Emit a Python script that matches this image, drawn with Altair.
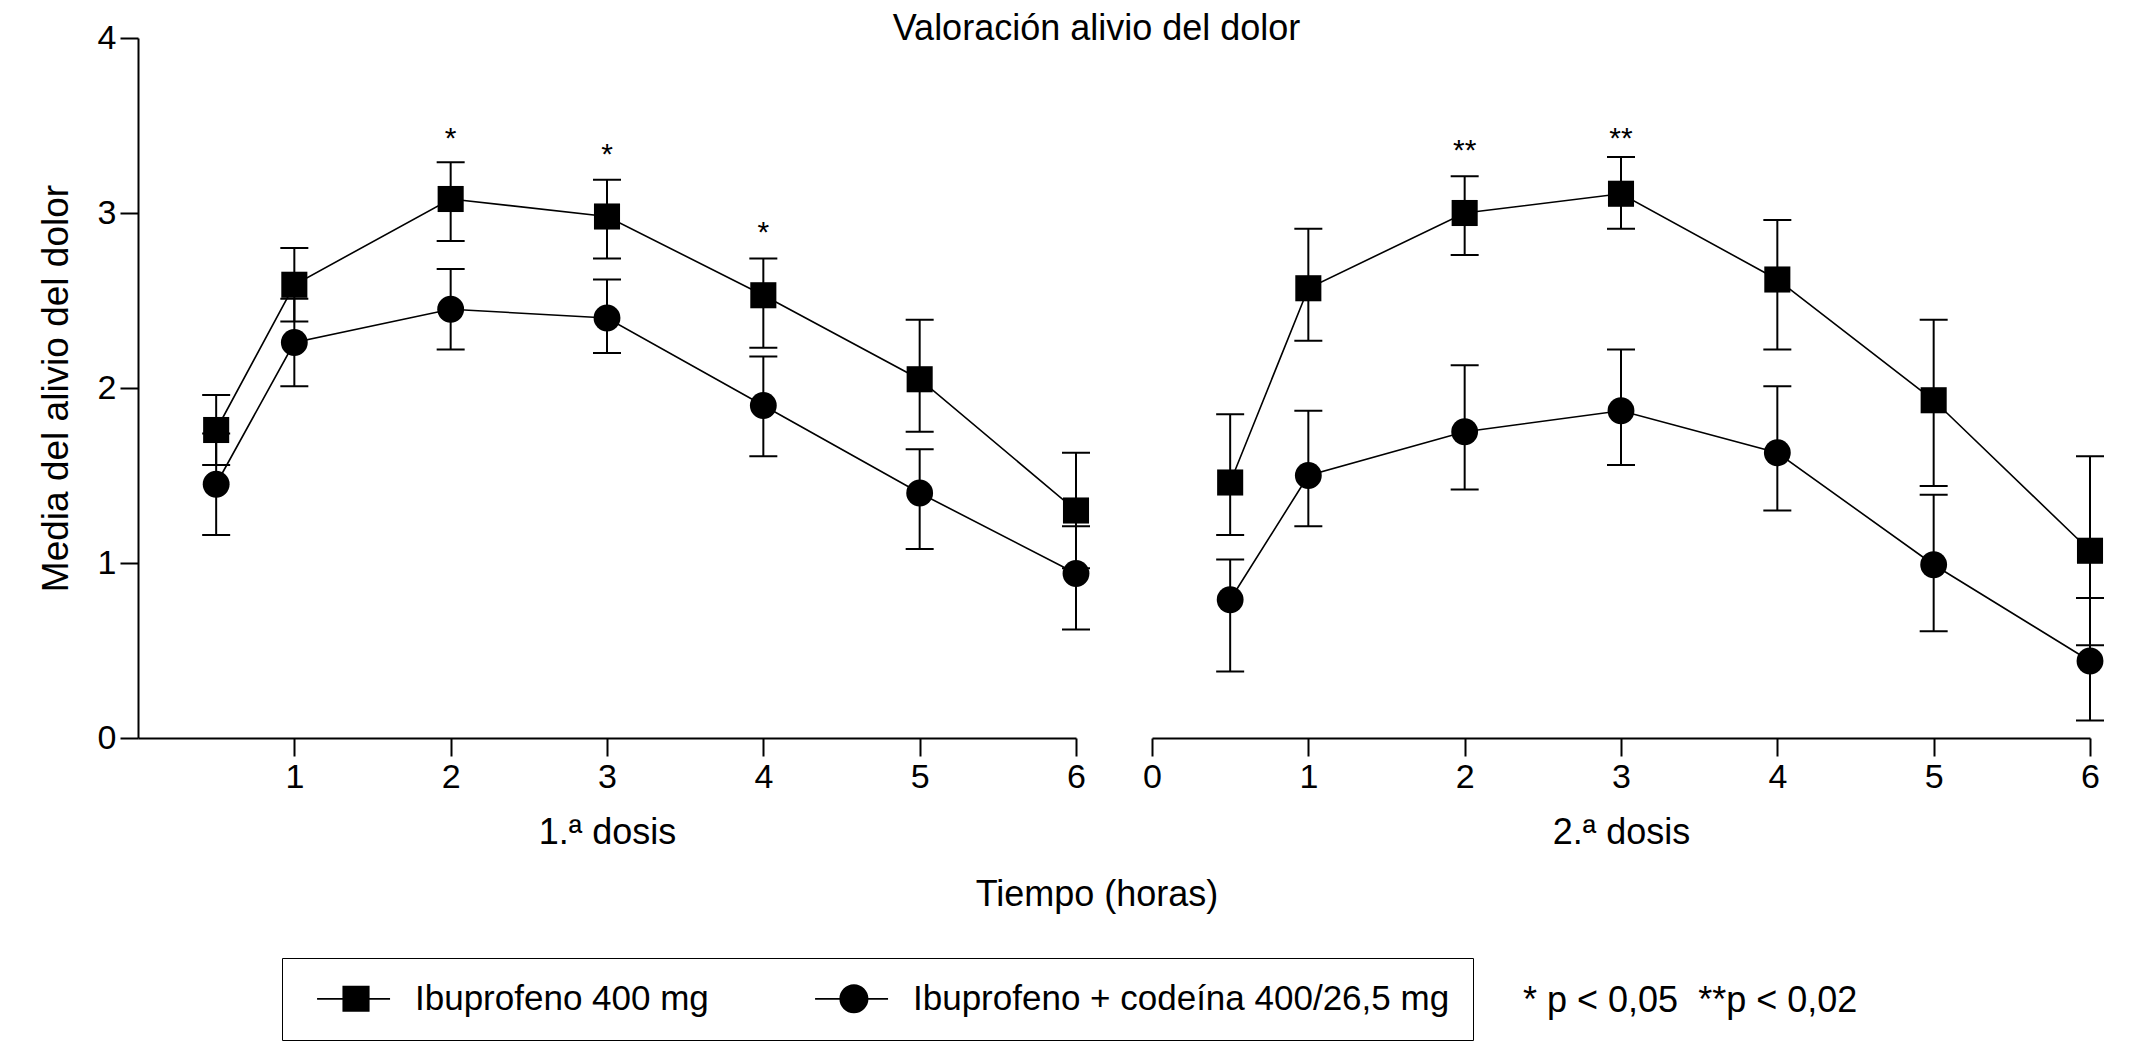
import pandas as pd
import altair as alt

FUENTE = "Liberation Sans"

TITULO = "Valoración alivio del dolor"
EJE_Y = "Media del alivio del dolor"
EJE_TIEMPO = "Tiempo (horas)"
DOSIS = ["1.ª dosis", "2.ª dosis"]
NOTA = "* p < 0,05\u00a0\u00a0**p < 0,02"

HORAS = [0.5, 1, 2, 3, 4, 5, 6]
SERIES = ["Ibuprofeno 400 mg", "Ibuprofeno + codeína 400/26,5 mg"]

# 1.ª dosis: media, extremo inferior y superior de la barra de error
IBU_1 = [1.76, 2.59, 3.08, 2.98, 2.53, 2.05, 1.30]
IBU_1_LO = [1.56, 2.38, 2.84, 2.74, 2.23, 1.75, 0.97]
IBU_1_HI = [1.96, 2.80, 3.29, 3.19, 2.74, 2.39, 1.63]
COD_1 = [1.45, 2.26, 2.45, 2.40, 1.90, 1.40, 0.94]
COD_1_LO = [1.16, 2.01, 2.22, 2.20, 1.61, 1.08, 0.62]
COD_1_HI = [1.74, 2.51, 2.68, 2.62, 2.18, 1.65, 1.21]

# 2.ª dosis
IBU_2 = [1.46, 2.57, 3.00, 3.11, 2.62, 1.93, 1.07]
IBU_2_LO = [1.16, 2.27, 2.76, 2.91, 2.22, 1.44, 0.53]
IBU_2_HI = [1.85, 2.91, 3.21, 3.32, 2.96, 2.39, 1.61]
COD_2 = [0.79, 1.50, 1.75, 1.87, 1.63, 0.99, 0.44]
COD_2_LO = [0.38, 1.21, 1.42, 1.56, 1.30, 0.61, 0.10]
COD_2_HI = [1.02, 1.87, 2.13, 2.22, 2.01, 1.39, 0.80]

# asteriscos de significación (hora, altura, texto)
EST_1_HORAS = [2, 3, 4]
EST_1_Y = [3.43, 3.34, 2.89]
EST_1_TXT = ["*", "*", "*"]
EST_2_HORAS = [2, 3]
EST_2_Y = [3.36, 3.43]
EST_2_TXT = ["**", "**"]

# símbolos de la leyenda: línea (rectángulo fino) con cuadrado / círculo
SIMBOLO_CUADRADO = "M-0.31,-0.05H3.86V0.05H-0.31ZM1.14,-0.74H2.69V0.74H1.14Z"
SIMBOLO_CIRCULO = "M-0.31,-0.05H3.86V0.05H-0.31ZM1.08,0A0.83,0.83,0,1,1,2.74,0A0.83,0.83,0,1,1,1.08,0Z"


def tabla(ibu, ibu_lo, ibu_hi, cod, cod_lo, cod_hi):
    filas = []
    for serie, media, lo, hi in [(SERIES[0], ibu, ibu_lo, ibu_hi), (SERIES[1], cod, cod_lo, cod_hi)]:
        for h, m, a, b in zip(HORAS, media, lo, hi):
            filas.append({"hora": h, "serie": serie, "media": m, "lo": a, "hi": b})
    return pd.DataFrame(filas)


def panel(datos, estrellas, valores_x, titulo_x, eje_y, leyenda=False):
    esc_x = alt.Scale(domain=[0, 6], nice=False, zero=False)
    esc_y = alt.Scale(domain=[0, 4], nice=False)
    eje_x = alt.Axis(values=valores_x, title=titulo_x, labelFlush=False, titlePadding=21)

    def X(campo):
        return alt.X(campo, type="quantitative", scale=esc_x, axis=eje_x)

    def Y(campo):
        return alt.Y(campo, type="quantitative", scale=esc_y, axis=eje_y)

    base = alt.Chart(datos)

    lineas = base.mark_line(color="black", strokeWidth=1.6).encode(
        x=X("hora"), y=Y("media"), detail="serie:N"
    )
    barras = base.mark_rule(color="black", strokeWidth=2).encode(
        x=X("hora"), y=Y("lo"), y2="hi"
    )
    tope_lo = base.mark_tick(color="black", orient="horizontal", size=28, thickness=2, opacity=1).encode(
        x=X("hora"), y=Y("lo")
    )
    tope_hi = base.mark_tick(color="black", orient="horizontal", size=28, thickness=2, opacity=1).encode(
        x=X("hora"), y=Y("hi")
    )
    cuadrados = base.transform_filter(alt.datum.serie == SERIES[0]).mark_square(
        color="black", size=680, opacity=1
    ).encode(x=X("hora"), y=Y("media"))
    circulos = base.transform_filter(alt.datum.serie == SERIES[1]).mark_circle(
        color="black", size=720, opacity=1
    ).encode(x=X("hora"), y=Y("media"))
    asteriscos = alt.Chart(estrellas).mark_text(
        font=FUENTE, fontSize=30, color="black", baseline="middle", dy=1
    ).encode(x=X("hora"), y=Y("pos"), text="txt:N")

    capas = [lineas, barras, tope_lo, tope_hi, cuadrados, circulos, asteriscos]

    if leyenda:
        capas.append(base.mark_point(opacity=0, filled=True, color="black", fill="black").encode(
            x=X("hora"), y=Y("media"),
            shape=alt.Shape("serie:N", scale=alt.Scale(domain=SERIES, range=[SIMBOLO_CUADRADO, SIMBOLO_CIRCULO]),
                            legend=alt.Legend(
                                title=None, orient="none", legendX=144, legendY=920,
                                direction="horizontal", columns=2,
                                symbolSize=1225, symbolFillColor="black", symbolStrokeColor="black",
                                symbolStrokeWidth=0, symbolOpacity=1,
                                labelFont=FUENTE, labelFontSize=35, labelColor="black",
                                labelOffset=75, labelLimit=1000, columnPadding=94,
                                padding=23, strokeColor="black"))
        ))
        capas.append(alt.Chart(pd.DataFrame({"t": [EJE_TIEMPO]})).mark_text(
            font=FUENTE, fontSize=36, color="black", align="center", baseline="alphabetic"
        ).encode(x=alt.value(-55), y=alt.value(868), text="t:N"))
        capas.append(alt.Chart(pd.DataFrame({"t": [NOTA]})).mark_text(
            font=FUENTE, fontSize=36, color="black", align="left", baseline="alphabetic"
        ).encode(x=alt.value(371), y=alt.value(974), text="t:N"))

    return alt.layer(*capas).properties(width=938, height=700)


datos_1 = tabla(IBU_1, IBU_1_LO, IBU_1_HI, COD_1, COD_1_LO, COD_1_HI)
datos_2 = tabla(IBU_2, IBU_2_LO, IBU_2_HI, COD_2, COD_2_LO, COD_2_HI)
estrellas_1 = pd.DataFrame({"hora": EST_1_HORAS, "pos": EST_1_Y, "txt": EST_1_TXT})
estrellas_2 = pd.DataFrame({"hora": EST_2_HORAS, "pos": EST_2_Y, "txt": EST_2_TXT})

eje_y = alt.Axis(values=[0, 1, 2, 3, 4], title=EJE_Y, titleFontSize=37, titlePadding=22, labelFlush=False)

izquierda = panel(datos_1, estrellas_1, [1, 2, 3, 4, 5, 6], DOSIS[0], eje_y)
derecha = panel(datos_2, estrellas_2, [0, 1, 2, 3, 4, 5, 6], DOSIS[1], None, leyenda=True)

chart = alt.hconcat(izquierda, derecha, spacing=76, bounds="flush").properties(
    title=alt.TitleParams(TITULO, font=FUENTE, fontSize=36, fontWeight="normal", color="black",
                          anchor="middle", baseline="alphabetic", offset=-55, dx=26),
    padding={"left": 29, "top": 3, "right": 5, "bottom": 5}
).configure_view(
    stroke=None
).configure_axis(
    grid=False, domainColor="black", domainWidth=2, tickColor="black", tickWidth=2, tickSize=18,
    labelColor="black", labelFont=FUENTE, labelFontSize=34, labelPadding=4,
    titleColor="black", titleFont=FUENTE, titleFontSize=36, titleFontWeight="normal"
)

chart.save("out.html", embed_options={"renderer": "svg", "actions": False})
